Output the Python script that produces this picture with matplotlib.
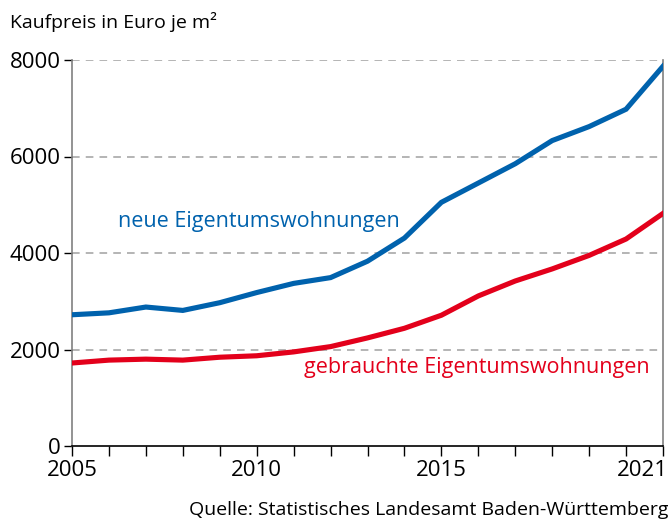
import matplotlib.pyplot as plt
from matplotlib.transforms import ScaledTranslation

plt.rcParams['font.family'] = ['Open Sans', 'DejaVu Sans']

# Kaufpreis je m² in Euro, Baden-Württemberg
years = list(range(2005, 2022))
neue = [2720, 2760, 2880, 2810, 2970, 3180, 3370, 3490, 3830, 4310,
        5050, 5450, 5850, 6330, 6620, 6980, 7870]
gebrauchte = [1720, 1780, 1800, 1780, 1840, 1870, 1950, 2060, 2240, 2440,
              2710, 3110, 3420, 3670, 3950, 4290, 4820]

BLUE = '#0062ad'
RED = '#e3001b'

fig = plt.figure(figsize=(6.7, 5.22), dpi=100)
ax = fig.add_axes([72 / 670, 1 - 446 / 522, 591 / 670, 386 / 522])

ax.plot(years, neue, color=BLUE, lw=3.7, solid_joinstyle='miter', zorder=3)
ax.plot(years, gebrauchte, color=RED, lw=3.7, solid_joinstyle='miter', zorder=3)

ax.set_xlim(2005, 2021)
ax.set_ylim(0, 8000)
ax.set_xticks(years)
ax.set_xticklabels([str(y) if y in (2005, 2010, 2015, 2021) else '' for y in years])
ax.set_yticks([0, 2000, 4000, 6000, 8000])

for y in [2000, 4000, 6000, 8000]:
    ax.axhline(y, color='#a0a0a0', lw=1.1, ls=(0, (5, 4)), zorder=1)

ax.tick_params(axis='x', direction='out', length=7, width=1, color='black',
               labelsize=16, pad=3)
ax.tick_params(axis='y', direction='out', length=6, width=1, color='black',
               labelsize=16, pad=2)

# last year label sits flush with the right edge
last = ax.get_xticklabels()[-1]
last.set_horizontalalignment('right')
last.set_transform(last.get_transform() + ScaledTranslation(5 / 100, 0, fig.dpi_scale_trans))

ax.spines['top'].set_visible(False)
ax.spines['left'].set_color('#808080')
ax.spines['right'].set_color('#808080')
ax.spines['bottom'].set_color('black')
for s in ax.spines.values():
    s.set_linewidth(1.2)

ax.text(2006.25, 4660, 'neue Eigentumswohnungen', color=BLUE, fontsize=15.5,
        va='center', ha='left')
ax.text(2020.65, 1620, 'gebrauchte Eigentumswohnungen', color=RED, fontsize=15.5,
        va='center', ha='right')

fig.text(10 / 670, 1 - 22 / 522, 'Kaufpreis in Euro je m²', fontsize=14,
         va='center', ha='left')
fig.text(668 / 670, 1 - 510 / 522, 'Quelle: Statistisches Landesamt Baden-Württemberg',
         fontsize=14, va='center', ha='right')

fig.savefig('out.png', dpi=100)
